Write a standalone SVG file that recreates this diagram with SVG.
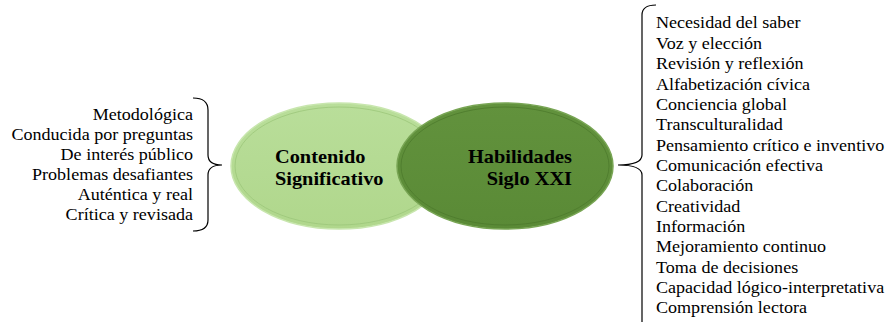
<svg xmlns="http://www.w3.org/2000/svg" width="887" height="322" viewBox="0 0 887 322">
<defs>
<style>
.t{font-family:"Liberation Serif","DejaVu Serif",serif;font-size:16.5px;fill:#000}
.r{text-anchor:end}
.b{font-family:"Liberation Serif","DejaVu Serif",serif;font-size:18.5px;font-weight:bold;fill:#000}
.br{fill:none;stroke:#000;stroke-width:1.2}
</style>
<linearGradient id="gl" x1="0" y1="0" x2="0" y2="1">
<stop offset="0" stop-color="#b9de9a"/><stop offset="1" stop-color="#b0d78c"/>
</linearGradient>
<linearGradient id="gd" x1="0" y1="0" x2="0" y2="1">
<stop offset="0" stop-color="#62923d"/><stop offset="1" stop-color="#5a8a36"/>
</linearGradient>
</defs>
<g id="connectors">
<path class="br" d="M193,98 Q208,98 208,110 L208,155 Q208,165 222,165 Q208,165 208,175 L208,220 Q208,231 193,231"/>
<path class="br" d="M656,5 Q642,5 642,15 L642,155 Q642,165 618,165 Q642,165 642,175 L642,322"/>
</g>
<g id="contenido">
<ellipse cx="339" cy="166" rx="108" ry="63" fill="url(#gl)" stroke="#c8e6ae" stroke-width="1.5"/>
<ellipse cx="339" cy="166" rx="104" ry="59" fill="none" stroke="#9cc77a" stroke-width="0.8"/>
<g transform="translate(275,0) scale(1.1,1) translate(-275,0)">
<text class="b" x="275" y="163">Contenido</text>
<text class="b" x="275" y="185">Significativo</text>
</g>
</g>
<g id="habilidades">
<ellipse cx="505" cy="166" rx="108" ry="63" fill="url(#gd)" stroke="#78a554" stroke-width="1.5"/>
<ellipse cx="505" cy="166" rx="104" ry="59" fill="none" stroke="#4c7a2c" stroke-width="0.8"/>
<g transform="translate(572,0) scale(1.1,1) translate(-572,0)">
<text class="b r" x="572" y="163">Habilidades</text>
<text class="b r" x="572" y="185">Siglo XXI</text>
</g>
</g>
<g id="contenido-list" transform="translate(193,0) scale(1.095,1) translate(-193,0)">
<text class="t r" x="193" y="120">Metodológica</text>
<text class="t r" x="193" y="140">Conducida por preguntas</text>
<text class="t r" x="193" y="160">De interés público</text>
<text class="t r" x="193" y="180">Problemas desafiantes</text>
<text class="t r" x="193" y="200">Auténtica y real</text>
<text class="t r" x="193" y="220">Crítica y revisada</text>
</g>
<g id="habilidades-list" transform="translate(656,1.5) scale(1.095,1) translate(-656,0)">
<text class="t" x="656" y="27">Necesidad del saber</text>
<text class="t" x="656" y="47.4">Voz y elección</text>
<text class="t" x="656" y="67.7">Revisión y reflexión</text>
<text class="t" x="656" y="88.1">Alfabetización cívica</text>
<text class="t" x="656" y="108.4">Conciencia global</text>
<text class="t" x="656" y="128.8">Transculturalidad</text>
<text class="t" x="656" y="149.2">Pensamiento crítico e inventivo</text>
<text class="t" x="656" y="169.5">Comunicación efectiva</text>
<text class="t" x="656" y="189.9">Colaboración</text>
<text class="t" x="656" y="210.2">Creatividad</text>
<text class="t" x="656" y="230.6">Información</text>
<text class="t" x="656" y="251">Mejoramiento continuo</text>
<text class="t" x="656" y="271.3">Toma de decisiones</text>
<text class="t" x="656" y="291.7">Capacidad lógico-interpretativa</text>
<text class="t" x="656" y="312">Comprensión lectora</text>
</g>
</svg>
